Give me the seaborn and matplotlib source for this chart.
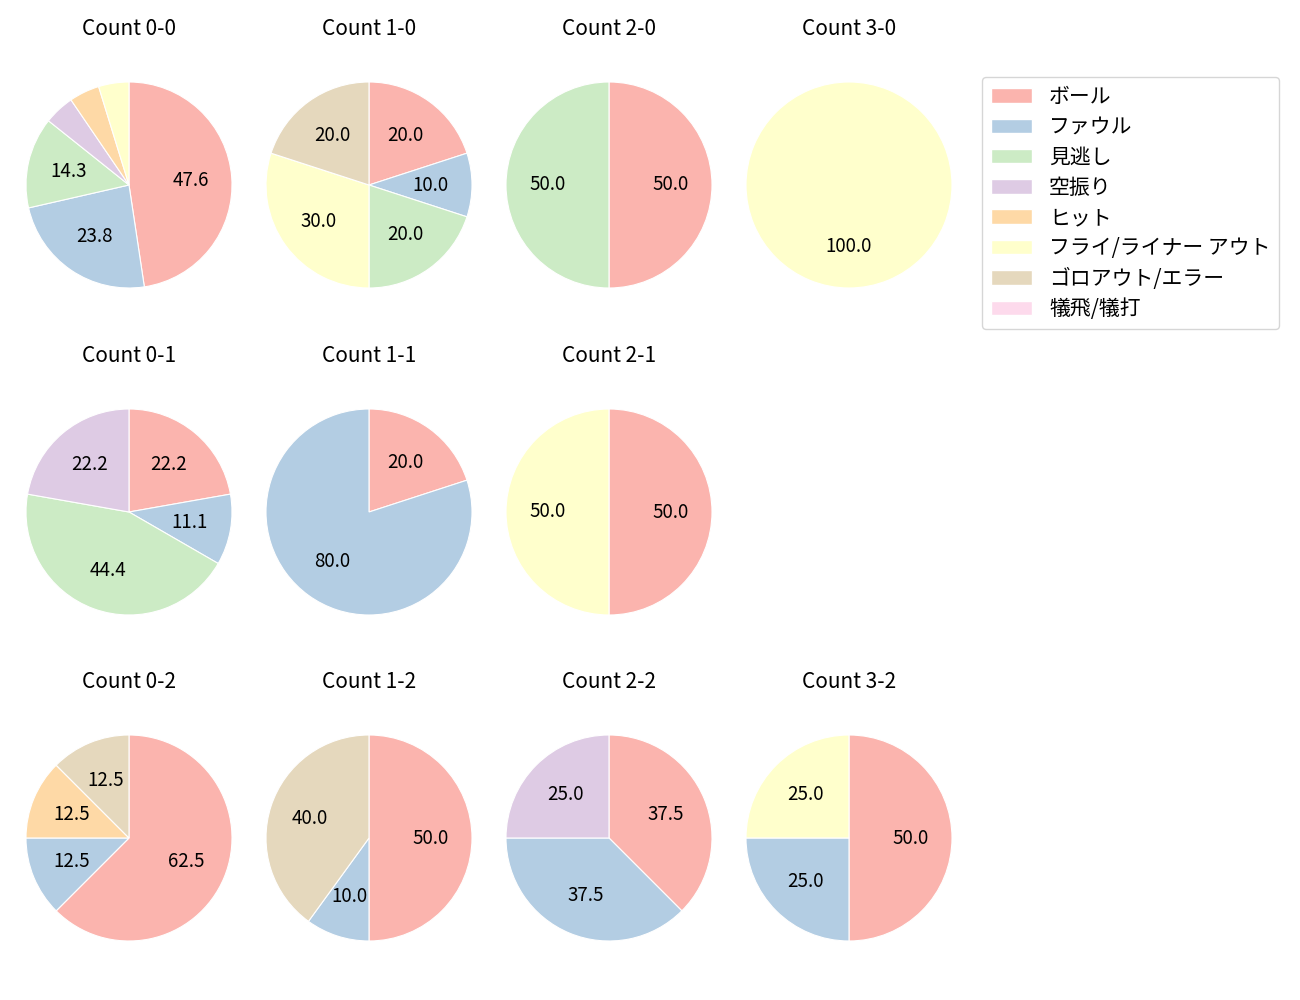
import matplotlib
matplotlib.use("Agg")
import matplotlib.pyplot as plt
import seaborn as sns
from matplotlib.patches import Patch

sns.set_theme(style="white")
plt.rcParams['font.family'] = ['Noto Sans CJK JP', 'DejaVu Sans']
plt.rcParams['text.color'] = 'black'

categories = ["ボール", "ファウル", "見逃し", "空振り", "ヒット", "フライ/ライナー アウト", "ゴロアウト/エラー", "犠飛/犠打"]
colors = sns.color_palette("Pastel1", 8)

counts = ["0-0", "1-0", "2-0", "3-0",
          "0-1", "1-1", "2-1", "3-1",
          "0-2", "1-2", "2-2", "3-2"]

# values per category in order of categories
v_0_0 = [10, 5, 3, 1, 1, 1, 0, 0]
v_1_0 = [2, 1, 2, 0, 0, 3, 2, 0]
v_2_0 = [1, 0, 1, 0, 0, 0, 0, 0]
v_3_0 = [0, 0, 0, 0, 0, 1, 0, 0]
v_0_1 = [2, 1, 4, 2, 0, 0, 0, 0]
v_1_1 = [1, 4, 0, 0, 0, 0, 0, 0]
v_2_1 = [1, 0, 0, 0, 0, 1, 0, 0]
v_3_1 = [0, 0, 0, 0, 0, 0, 0, 0]
v_0_2 = [5, 1, 0, 0, 1, 0, 1, 0]
v_1_2 = [5, 1, 0, 0, 0, 0, 4, 0]
v_2_2 = [3, 3, 0, 2, 0, 0, 0, 0]
v_3_2 = [2, 1, 0, 0, 0, 1, 0, 0]

values = [v_0_0, v_1_0, v_2_0, v_3_0, v_0_1, v_1_1, v_2_1, v_3_1,
          v_0_2, v_1_2, v_2_2, v_3_2]

fig = plt.figure(figsize=(13, 10), dpi=100)
W, H = 1300, 1000
xc = [129, 369, 609, 849]
yc = [185, 512, 838]
size = 257.5

for i, (cnt, vals) in enumerate(zip(counts, values)):
    r, c = divmod(i, 4)
    ax = fig.add_axes([(xc[c] - size / 2) / W, 1 - (yc[r] + size / 2) / H, size / W, size / H])
    if sum(vals) == 0:
        ax.axis("off")
        continue
    nz = [(v, col) for v, col in zip(vals, colors) if v > 0]
    ax.pie([v for v, _ in nz], colors=[col for _, col in nz], startangle=90, counterclock=False,
           autopct=lambda p: f"{p:.1f}" if p > 5 else "",
           wedgeprops=dict(edgecolor="white", linewidth=0.8),
           textprops=dict(fontsize=13.5, color="black"))
    ax.set_title(f"Count {cnt}", fontsize=15, pad=15, color="black")

handles = [Patch(facecolor=col, label=lab) for col, lab in zip(colors, categories)]
fig.legend(handles=handles, loc="upper left", bbox_to_anchor=(982 / W, 1 - 77 / H),
           borderaxespad=0, fontsize=15, frameon=True, edgecolor="#cccccc",
           labelspacing=0.4, borderpad=0.42)

fig.savefig("out.png", dpi=100)
